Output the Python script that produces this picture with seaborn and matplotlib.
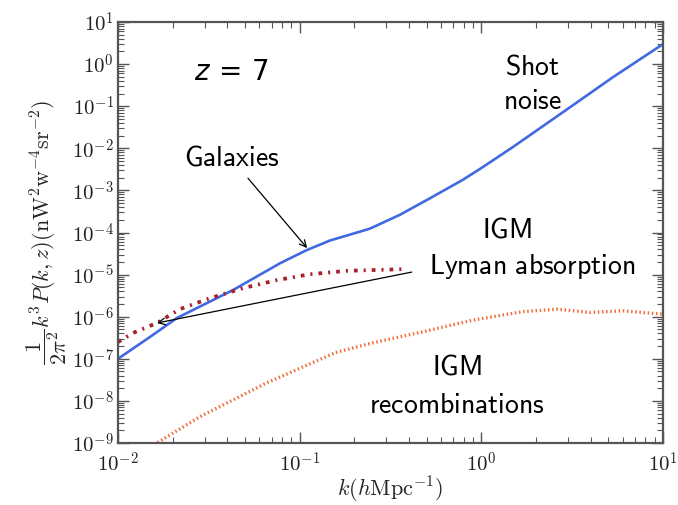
import matplotlib
matplotlib.use("Agg")
import matplotlib.pyplot as plt
import matplotlib.ticker as mticker
import numpy as np
import pandas as pd
import seaborn as sns

# ---- data ----
k_gal = [0.01, 0.015, 0.0211, 0.043, 0.078, 0.109, 0.147, 0.215, 0.244, 0.356,
         0.521, 0.79, 1.0, 1.49, 2.81, 5.3, 10.0]
P_gal = [1.0e-7, 3.3e-7, 9.3e-7, 4.3e-6, 1.86e-5, 3.8e-5, 6.46e-5, 1.05e-4, 1.24e-4,
         2.63e-4, 6.5e-4, 1.78e-3, 3.4e-3, 1.07e-2, 7.2e-2, 4.9e-1, 3.0]

k_lya = [0.01, 0.0121, 0.0164, 0.0219, 0.0321, 0.049, 0.075, 0.114, 0.182, 0.38]
P_lya = [2.5e-7, 4.1e-7, 7.1e-7, 1.51e-6, 2.75e-6, 4.8e-6, 7.4e-6, 1.02e-5,
         1.23e-5, 1.35e-5]

k_rec = [0.0151, 0.0282, 0.0661, 0.158, 0.253, 0.478, 0.9, 1.69, 2.61, 3.96,
         6.01, 9.38, 10.0]
P_rec = [8.1e-10, 4.2e-9, 2.7e-8, 1.41e-7, 2.4e-7, 4.4e-7, 8.3e-7, 1.32e-6,
         1.51e-6, 1.26e-6, 1.38e-6, 1.17e-6, 1.15e-6]

series_names = ["Galaxies", "IGM Lyman absorption", "IGM recombinations"]

df = pd.concat([
    pd.DataFrame({"k": k_gal, "P": P_gal, "series": series_names[0]}),
    pd.DataFrame({"k": k_lya, "P": P_lya, "series": series_names[1]}),
    pd.DataFrame({"k": k_rec, "P": P_rec, "series": series_names[2]}),
], ignore_index=True)

# ---- style ----
sns.set_theme(style="ticks")
plt.rcParams["mathtext.fontset"] = "cm"
plt.rcParams["font.family"] = ["DejaVu Sans"]

fig = plt.figure(figsize=(6.78, 5.05), dpi=100)
ax = fig.add_axes([0.174, 0.1228, 0.804, 0.8336])

styles = {
    "Galaxies": dict(color="#4169e1", lw=1.9, ls="-"),
    "IGM Lyman absorption": dict(color="#a8202a", lw=2.7, ls=(0, (1.0, 1.6, 0.55, 1.6))),
    "IGM recombinations": dict(color="#f26d3d", lw=2.4, ls=(0, (0.45, 0.8))),
}

for name in series_names:
    sub = df[df["series"] == name]
    st = styles[name]
    sns.lineplot(data=sub, x="k", y="P", ax=ax, color=st["color"],
                 linewidth=st["lw"], estimator=None, sort=True, legend=False)
    ln = ax.lines[-1]
    ln.set_linestyle(st["ls"])
    ln.set_dash_capstyle("butt")

ax.set_xscale("log")
ax.set_yscale("log")
ax.set_xlim(1e-2, 1e1)
ax.set_ylim(1e-9, 1e1)

fmt = mticker.FuncFormatter(lambda v, p: r"$10^{%d}$" % int(round(np.log10(v))))
ax.xaxis.set_major_locator(mticker.LogLocator(base=10, numticks=20))
ax.yaxis.set_major_locator(mticker.LogLocator(base=10, numticks=20))
ax.xaxis.set_minor_locator(mticker.LogLocator(base=10, subs=np.arange(2, 10), numticks=100))
ax.yaxis.set_minor_locator(mticker.LogLocator(base=10, subs=np.arange(2, 10), numticks=100))
ax.xaxis.set_major_formatter(fmt)
ax.yaxis.set_major_formatter(fmt)
ax.xaxis.set_minor_formatter(mticker.NullFormatter())
ax.yaxis.set_minor_formatter(mticker.NullFormatter())

spine_c = "#555555"
for s in ax.spines.values():
    s.set_visible(True)
    s.set_color(spine_c)
    s.set_linewidth(1.6)
ax.tick_params(which="both", direction="in", top=True, right=True, color=spine_c,
               labelsize=15, labelcolor="#222222")
ax.tick_params(which="major", length=8, width=1.0)
ax.tick_params(axis="x", which="major", pad=6)
ax.tick_params(axis="y", which="major", pad=3)
ax.tick_params(which="minor", length=4, width=0.8)

ax.set_xlabel(r"$k(h\mathrm{Mpc}^{-1})$", fontsize=16, labelpad=0)
ax.set_ylabel(r"$\dfrac{1}{2\pi^2}k^3P(k,z)(\mathrm{nW}^2\mathrm{w}^{-4}\mathrm{sr}^{-2})$",
              fontsize=16, labelpad=2)

# ---- annotations ----
tk = dict(transform=ax.transAxes, ha="center", va="center", fontsize=20, color="black")
ax.text(0.209, 0.881, r"$z\,=\,7$", math_fontfamily="dejavusans", **tk)
ax.text(0.209, 0.677, r"$\mathsf{Galaxies}$", **tk)
ax.text(0.761, 0.853, "$\\mathsf{Shot}$\n$\\mathsf{noise}$", linespacing=1.3, **tk)
ax.text(0.714, 0.506, r"$\mathsf{IGM}$", **tk)
ax.text(0.760, 0.420, r"$\mathsf{Lyman\ absorption}$", **tk)
ax.text(0.622, 0.181, r"$\mathsf{IGM}$", **tk)
ax.text(0.622, 0.090, r"$\mathsf{recombinations}$", **tk)

arrow = dict(arrowstyle="->", color="black", lw=0.9, shrinkA=0, shrinkB=0)
ax.annotate("", xy=(0.347, 0.463), xytext=(0.2385, 0.629),
            xycoords="axes fraction", textcoords="axes fraction", arrowprops=arrow)
ax.annotate("", xy=(0.0716, 0.285), xytext=(0.539, 0.406),
            xycoords="axes fraction", textcoords="axes fraction", arrowprops=arrow)

fig.savefig("out.png", dpi=100)
